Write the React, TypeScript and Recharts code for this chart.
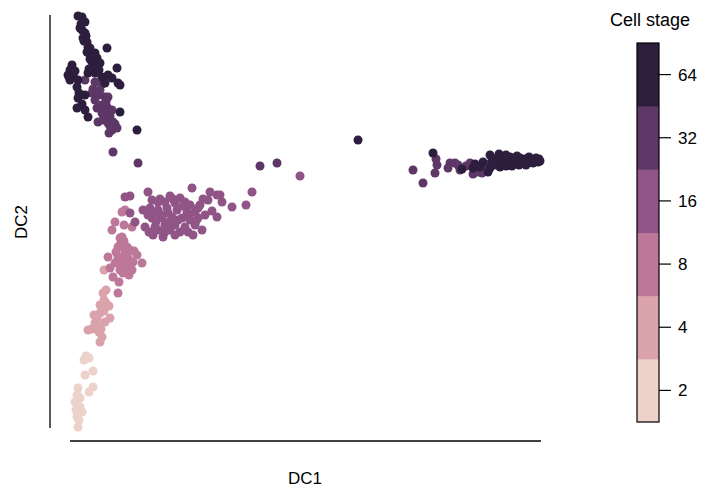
import { ScatterChart, Scatter, XAxis, YAxis, ZAxis, ReferenceLine } from 'recharts';

// cell stages and their cubehelix colours (light -> dark)
const stages = ['2', '4', '8', '16', '32', '64'];
const stageColors = ['#edd1cb', '#daa3ac', '#bd7899', '#905586', '#5d3766', '#2d1e3e'];

// [DC1, DC2] per cell
const stage2: [number, number][] = [
  [1.4, 6.8], [1.9, 7.0], [1.6, 7.2], [1.5, 5.3], [2.3, 5.7], [2.3, 4.1], [1.9, 3.6], [0.8, 4.0],
  [0.7, 3.3], [0.5, 2.6], [1.0, 2.1], [0.7, 1.1], [0.8, 0.1], [1.2, 1.6], [1.0, 3.0], [0.6, 1.8],
  [0.9, 0.8],
];

const stage4: [number, number][] = [
  [3.3, 13.5], [3.6, 13.8], [3.0, 12.3], [3.9, 12.2], [3.4, 12.8], [3.0, 11.5], [4.0, 11.0],
  [2.5, 10.5], [2.2, 9.9], [2.9, 9.6], [3.2, 9.1], [3.0, 8.6], [2.7, 11.0], [3.4, 11.7],
  [1.8, 9.8], [2.6, 10.0], [3.5, 10.6], [3.4, 15.8], [3.6, 12.5], [2.8, 10.3], [3.1, 9.9],
  [2.4, 11.3],
];

const stage8: [number, number][] = [
  [5.2, 21.6], [5.5, 21.8], [4.5, 20.6], [4.2, 19.8], [6.2, 20.1], [5.0, 19.0], [5.2, 19.1],
  [4.8, 18.1], [5.0, 18.3], [5.7, 18.1], [6.0, 17.8], [3.8, 17.1], [4.8, 17.0], [5.3, 17.1],
  [5.8, 17.0], [6.7, 17.3], [7.2, 16.5], [4.5, 16.5], [5.2, 16.5], [6.0, 16.5], [5.0, 15.8],
  [5.7, 16.0], [6.2, 15.8], [4.3, 15.1], [5.3, 15.5], [4.8, 13.5], [5.5, 17.6], [6.3, 16.6],
  [5.4, 18.7], [4.6, 17.6], [6.4, 17.7], [5.6, 16.8], [4.0, 16.0], [5.9, 15.3], [4.9, 14.6],
  [5.4, 20.3],
];

const stage16: [number, number][] = [
  [5.5, 23.1], [6.0, 23.2], [7.8, 23.6], [12.2, 24.0], [13.8, 22.8], [14.7, 23.3], [15.2, 22.6],
  [14.7, 21.1], [8.2, 22.8], [8.8, 22.6], [9.5, 22.6], [10.5, 22.5], [11.5, 22.6], [8.0, 22.0],
  [8.8, 21.8], [9.7, 22.0], [10.7, 21.8], [11.7, 21.6], [12.5, 21.6], [12.8, 21.0], [8.2, 21.0],
  [9.2, 21.0], [10.2, 21.1], [11.2, 21.0], [12.0, 20.8], [7.5, 20.1], [8.5, 20.1], [9.5, 20.3],
  [10.5, 20.3], [11.5, 20.1], [12.5, 20.3], [8.3, 19.3], [9.3, 19.1], [10.5, 19.3], [12.3, 19.3],
  [6.5, 20.6], [6.0, 21.5], [10.0, 23.2], [11.0, 23.0], [9.0, 21.4], [10.0, 19.8], [11.0, 19.6],
  [13.0, 22.3], [13.5, 21.3], [12.0, 22.3], [16.2, 22.1], [17.6, 22.3], [18.2, 23.6], [23.0, 25.2],
  [15.0, 23.3], [8.8, 19.8], [7.8, 21.3], [9.0, 22.9], [9.8, 21.5], [10.3, 22.9], [11.3, 22.2],
  [12.8, 22.0], [8.5, 21.5], [9.5, 19.6], [11.8, 19.6], [12.6, 20.7], [13.3, 22.9], [7.3, 21.8],
  [10.8, 20.8], [11.9, 21.0], [9.9, 20.6], [8.6, 20.6], [7.9, 19.6], [13.2, 19.8], [14.2, 21.7],
  [14.0, 23.6],
];

const stage32: [number, number][] = [
  [2.2, 33.5], [2.8, 33.3], [3.5, 33.1], [3.8, 33.1], [2.5, 32.8], [3.2, 32.3], [3.7, 32.1],
  [3.2, 31.5], [3.8, 31.5], [4.2, 31.8], [3.3, 30.8], [2.8, 30.6], [3.8, 30.5], [4.3, 30.6],
  [4.2, 29.8], [4.7, 30.0], [4.3, 27.6], [1.5, 34.8], [2.5, 34.6], [3.2, 34.4], [3.0, 33.8],
  [3.5, 31.1], [4.0, 31.2], [6.8, 26.5], [19.0, 26.2], [20.7, 26.5], [2.7, 32.0], [3.6, 32.6],
  [4.0, 30.2], [3.9, 29.5], [4.5, 30.4], [2.3, 33.9],
  [34.3, 25.8], [35.3, 24.5], [36.7, 26.3], [36.5, 25.5], [36.6, 26.9], [38.0, 26.5], [38.8, 26.3],
  [40.0, 26.5], [41.2, 25.5], [40.7, 25.6], [39.6, 26.2], [38.5, 26.5], [41.5, 26.0], [42.0, 26.4],
  [43.0, 26.4], [39.0, 25.8], [37.8, 26.0], [40.3, 25.4],
];

const stage64: [number, number][] = [
  [0.8, 41.2], [1.2, 41.1], [1.5, 40.6], [1.0, 40.0], [1.2, 39.8], [1.5, 39.5], [1.6, 39.2],
  [1.3, 39.0], [1.7, 38.6], [1.8, 38.1], [1.7, 37.6], [2.0, 37.3], [2.5, 37.5], [2.7, 37.0],
  [2.0, 36.9], [2.2, 36.6], [2.8, 36.3], [2.3, 36.0], [3.7, 38.0], [4.7, 36.0], [0.2, 36.3],
  [0.0, 35.8], [-0.2, 35.3], [0.3, 35.3], [0.8, 34.8], [1.8, 35.5], [2.5, 35.5], [3.2, 35.1],
  [3.8, 35.3], [4.8, 34.5], [5.0, 34.3], [0.8, 33.0], [0.7, 32.0], [1.5, 31.8], [1.8, 31.1],
  [1.5, 33.3], [5.0, 31.6], [6.7, 29.8], [0.7, 34.1], [3.5, 34.5], [0.0, 34.8],
  [1.1, 40.4], [1.4, 38.7], [2.0, 38.0], [2.3, 37.2], [3.0, 36.5], [1.9, 35.9], [2.9, 35.8],
  [4.2, 35.0], [0.5, 35.7], [-0.1, 35.1], [0.9, 33.5], [1.2, 32.4],
  [28.8, 28.8], [36.3, 27.5], [39.2, 25.9], [40.3, 26.0], [41.0, 26.1], [41.8, 25.6], [42.0, 27.3],
  [42.5, 26.9], [43.0, 27.1], [43.5, 27.0], [44.0, 27.1], [44.5, 27.0], [45.0, 27.0], [45.5, 26.9],
  [46.0, 26.9], [46.5, 26.8], [47.0, 26.7], [42.8, 26.5], [43.3, 26.4], [43.8, 26.6], [44.3, 26.5],
  [44.8, 26.6], [45.3, 26.5], [45.8, 26.6], [46.3, 26.5], [46.8, 26.6], [43.0, 26.1], [43.6, 26.2],
  [44.2, 26.2], [44.9, 26.3], [45.6, 26.3], [42.6, 26.3], [42.2, 26.7], [43.9, 26.9], [44.6, 26.8],
  [45.2, 26.8], [46.1, 26.7], [42.0, 26.0], [43.2, 26.7], [44.1, 26.7], [45.7, 26.6], [46.6, 27.0],
  [44.7, 27.2], [43.6, 27.3], [42.9, 27.4], [45.9, 27.1], [46.9, 26.9], [41.3, 26.6], [40.5, 26.4],
];

const stageData = [stage2, stage4, stage8, stage16, stage32, stage64];

const font = '"Liberation Sans", Arial, sans-serif';

const toPoints = (pts: [number, number][]) => pts.map(([x, y]) => ({ x, y }));

const ColorBar = () => {
  const top = 43;
  const bottom = 422;
  const segH = (bottom - top) / stages.length;
  return (
    <svg width={706} height={487} style={{ position: 'absolute', left: 0, top: 0, pointerEvents: 'none' }}>
      <text x={650} y={26} textAnchor="middle" fontSize={18} fontFamily={font} fill="#000">Cell stage</text>
      {stages.map((s, i) => {
        const y = bottom - (i + 1) * segH;
        return <rect key={s} x={637} y={y} width={22} height={segH + 0.5} fill={stageColors[i]} />;
      })}
      <rect x={637} y={top} width={22} height={bottom - top} fill="none" stroke="#000" strokeWidth={1.2} />
      {stages.map((s, i) => {
        const y = bottom - (i + 0.5) * segH;
        return (
          <g key={s}>
            <line x1={659} x2={671} y1={y} y2={y} stroke="#000" strokeWidth={1.2} />
            <text x={678} y={y + 6} fontSize={17} fontFamily={font} fill="#000">{s}</text>
          </g>
        );
      })}
      <text x={305} y={484} textAnchor="middle" fontSize={17} fontFamily={font} fill="#000">DC1</text>
      <text x={27} y={222} textAnchor="middle" fontSize={17} fontFamily={font} fill="#000"
        transform="rotate(-90 27 222)">DC2</text>
    </svg>
  );
};

const App = () => {
  return (
    <div style={{ position: 'absolute', left: 0, top: 0, width: 706, height: 487, background: '#fff' }}>
      <ScatterChart width={706} height={487} margin={{ top: 15, right: 165, bottom: 46, left: 50 }}>
        <XAxis type="number" dataKey="x" domain={[-2, 47.1]} hide />
        <YAxis type="number" dataKey="y" domain={[-1.3, 41.3]} hide />
        <ZAxis range={[66, 66]} />
        <ReferenceLine segment={[{ x: 0, y: -1.3 }, { x: 47.1, y: -1.3 }]} stroke="#000" strokeWidth={1.3} />
        <ReferenceLine segment={[{ x: -2, y: 0 }, { x: -2, y: 41.3 }]} stroke="#000" strokeWidth={1.3} />
        {stageData.map((pts, i) => (
          <Scatter key={stages[i]} name={stages[i]} data={toPoints(pts)} fill={stageColors[i]} isAnimationActive={false} />
        ))}
      </ScatterChart>
      <ColorBar />
    </div>
  );
};

export default App;
